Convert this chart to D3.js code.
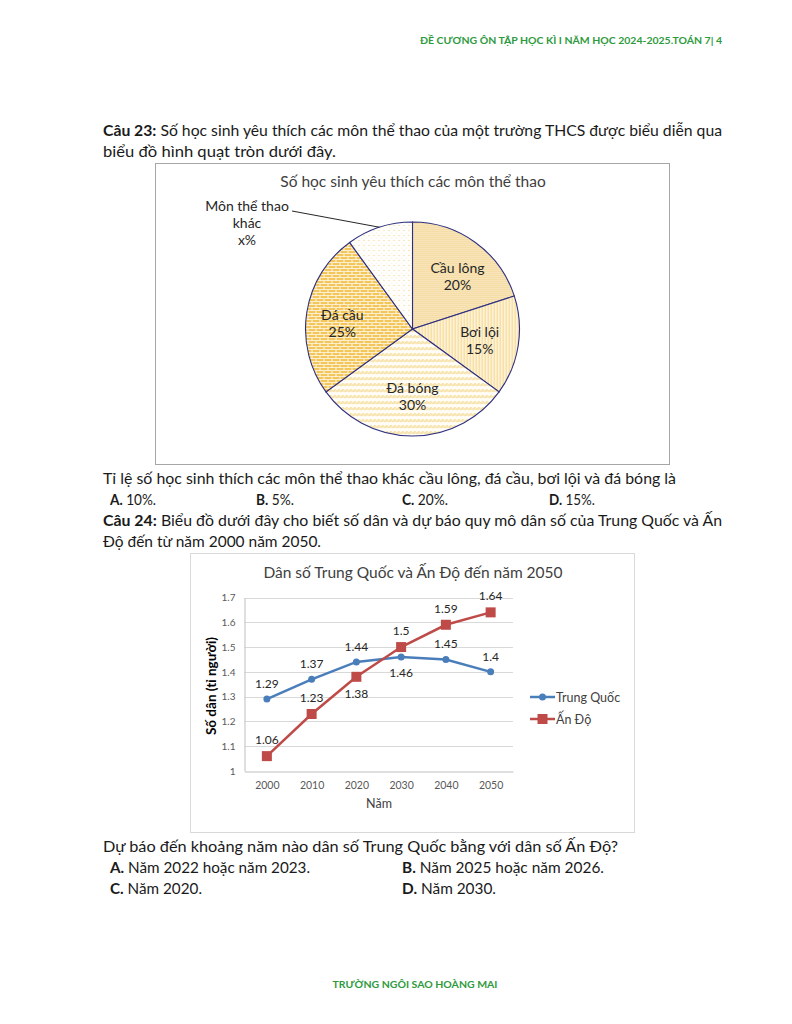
<!DOCTYPE html>
<html><head><meta charset="utf-8">
<script src="https://cdn.jsdelivr.net/npm/d3@7"></script>
<style>
html,body{margin:0;padding:0;background:#fff;}
svg{display:block;font-family:Lato,"Open Sans",sans-serif;}
</style></head>
<body>
<svg id="page" width="792" height="1024"></svg>
<script>
// ---------- DATA ----------
const pieCategories = ["Cầu lông", "Bơi lội", "Đá bóng", "Đá cầu", "Môn thể thao khác"];
const pieValues = [20, 15, 30, 25, 10];
const pieLabels = ["20%", "15%", "30%", "25%", "x%"];
const pieTitle = "Số học sinh yêu thích các môn thể thao";

const years = [2000, 2010, 2020, 2030, 2040, 2050];
const chinaValues = [1.29, 1.37, 1.44, 1.46, 1.45, 1.4];
const indiaValues = [1.06, 1.23, 1.38, 1.5, 1.59, 1.64];
const chinaLabelPos = ["above", "above", "above", "below", "above", "above"];
const indiaLabelPos = ["above", "above", "below", "above", "above", "above"];
const yTicks = [1, 1.1, 1.2, 1.3, 1.4, 1.5, 1.6, 1.7];
const seriesNames = ["Trung Quốc", "Ấn Độ"];
const lineTitle = "Dân số Trung Quốc và Ấn Độ đến năm 2050";
const yAxisTitle = "Số dân (tỉ người)";
const xAxisTitle = "Năm";

const svg = d3.select("#page");
const defs = svg.append("defs");

// ---------- PAGE TEXT ----------
const green = "#2e9a3e";
svg.append("text").attr("x", 722).attr("y", 44).attr("text-anchor", "end")
  .attr("font-size", 9.5).attr("font-weight", "bold").attr("fill", green)
  .attr("textLength", 302).attr("lengthAdjust", "spacingAndGlyphs")
  .text("ĐỀ CƯƠNG ÔN TẬP HỌC KÌ I NĂM HỌC 2024-2025.TOÁN 7| 4");
svg.append("text").attr("x", 415).attr("y", 988).attr("text-anchor", "middle")
  .attr("font-size", 9.5).attr("font-weight", "bold").attr("fill", green)
  .attr("textLength", 165).attr("lengthAdjust", "spacingAndGlyphs")
  .text("TRƯỜNG NGÔI SAO HOÀNG MAI");

function line(x, y, parts, width) {
  const t = svg.append("text").attr("x", x).attr("y", y).attr("font-size", 15).attr("fill", "#1a1a1a");
  parts.forEach(p => t.append("tspan").attr("font-weight", p[1] ? "bold" : "normal").text(p[0]));
  if (width) t.attr("textLength", width).attr("lengthAdjust", "spacingAndGlyphs");
  return t;
}
line(103, 136, [["Câu 23:", true], [" Số học sinh yêu thích các môn thể thao của một trường THCS được biểu diễn qua", false]], 619);
line(103, 157, [["biểu đồ hình quạt tròn dưới đây.", false]], 233);
line(103, 484, [["Tỉ lệ số học sinh thích các môn thể thao khác cầu lông, đá cầu, bơi lội và đá bóng là", false]], 573);
line(110, 505, [["A.", true], [" 10%.", false]], 46);
line(256, 505, [["B.", true], [" 5%.", false]], 38);
line(402, 505, [["C.", true], [" 20%.", false]], 46);
line(549, 505, [["D.", true], [" 15%.", false]], 46);
line(103, 526, [["Câu 24:", true], [" Biểu đồ dưới đây cho biết số dân và dự báo quy mô dân số của Trung Quốc và Ấn", false]], 619);
line(103, 547, [["Độ đến từ năm 2000 năm 2050.", false]], 218);
line(103, 852, [["Dự báo đến khoảng năm nào dân số Trung Quốc bằng với dân số Ấn Độ?", false]], 515);
line(110, 873, [["A.", true], [" Năm 2022 hoặc năm 2023.", false]], 200);
line(402, 873, [["B.", true], [" Năm 2025 hoặc năm 2026.", false]], 202);
line(110, 894, [["C.", true], [" Năm 2020.", false]], 92);
line(402, 894, [["D.", true], [" Năm 2030.", false]], 94);

// ---------- PATTERNS ----------
function pat(id, w, h, bg, draw) {
  const p = defs.append("pattern").attr("id", id).attr("patternUnits", "userSpaceOnUse")
    .attr("width", w).attr("height", h);
  p.append("rect").attr("width", w).attr("height", h).attr("fill", bg);
  draw(p);
}
// Cầu lông: fine light tan texture
pat("p0", 2, 2, "#f8e4b8", p => {
  p.append("rect").attr("x", 0).attr("y", 0).attr("width", 1).attr("height", 1).attr("fill", "#f1d596");
});
// Bơi lội: vertical stripes
pat("p1", 3, 3, "#fffaf0", p => {
  p.append("rect").attr("x", 0).attr("y", 0).attr("width", 1.5).attr("height", 3).attr("fill", "#f6d88e");
});
// Đá bóng: bands of small diagonal strokes
pat("p2", 4, 6, "#fffdf6", p => {
  p.append("line").attr("x1", 0).attr("y1", 3).attr("x2", 3).attr("y2", 0).attr("stroke", "#f3d68b").attr("stroke-width", 1.2);
  p.append("line").attr("x1", 0).attr("y1", 2).attr("x2", 4).attr("y2", 2).attr("stroke", "#f8e4b0").attr("stroke-width", 1.5);
});
// Đá cầu: brick
pat("p3", 8, 6, "#fff8e8", p => {
  p.append("rect").attr("x", 0).attr("y", 0).attr("width", 7).attr("height", 2.2).attr("fill", "#f2c65a");
  p.append("rect").attr("x", 4).attr("y", 3).attr("width", 7).attr("height", 2.2).attr("fill", "#f2c65a");
  p.append("rect").attr("x", -4).attr("y", 3).attr("width", 7).attr("height", 2.2).attr("fill", "#f2c65a");
});
// Khác: sparse dots
pat("p4", 5, 5, "#ffffff", p => {
  p.append("circle").attr("cx", 1.5).attr("cy", 1.5).attr("r", 0.8).attr("fill", "#f3dca0");
  p.append("circle").attr("cx", 4).attr("cy", 4).attr("r", 0.6).attr("fill", "#f6e5b8");
});

// ---------- PIE CHART ----------
svg.append("rect").attr("x", 155.5).attr("y", 163.5).attr("width", 514).attr("height", 301)
  .attr("fill", "#fff").attr("stroke", "#a6a6a6").attr("stroke-width", 1);
svg.append("text").attr("x", 413).attr("y", 187).attr("text-anchor", "middle")
  .attr("font-size", 15.5).attr("fill", "#404040").text(pieTitle);

const cx = 412.5, cy = 329, R = 107;
const pie = d3.pie().sort(null).value(d => d)(pieValues);
const arc = d3.arc().innerRadius(0).outerRadius(R);
const labelArc = d3.arc().innerRadius(68).outerRadius(68);
const pg = svg.append("g").attr("transform", `translate(${cx},${cy})`);
pg.selectAll("path.slice").data(pie).join("path").attr("class", "slice")
  .attr("d", arc).attr("fill", (d, i) => `url(#p${i})`)
  .attr("stroke", "#2f3180").attr("stroke-width", 1.1);

const labelNudge = [[5, 3], [0, 1], [0, 0], [-3, 6]];
pie.forEach((d, i) => {
  if (i === 4) return;
  const [x, y] = labelArc.centroid(d);
  const adj = labelNudge[i];
  const t = pg.append("text").attr("text-anchor", "middle").attr("font-size", 14).attr("fill", "#262626");
  t.append("tspan").attr("x", x + adj[0]).attr("y", y + adj[1] - 4).text(pieCategories[i]);
  t.append("tspan").attr("x", x + adj[0]).attr("y", y + adj[1] + 13).text(pieLabels[i]);
});
// outside label for "Môn thể thao khác"
{
  const d = pie[4];
  const mid = (d.startAngle + d.endAngle) / 2;
  const ex = Math.sin(mid) * R, ey = -Math.cos(mid) * R;
  pg.append("line").attr("x1", ex).attr("y1", ey).attr("x2", 292 - cx).attr("y2", 211 - cy)
    .attr("stroke", "#262626").attr("stroke-width", 1);
  const words = ["Môn thể thao", "khác", pieLabels[4]];
  const t = svg.append("text").attr("text-anchor", "middle").attr("font-size", 14).attr("fill", "#262626");
  words.forEach((w, k) => t.append("tspan").attr("x", 247).attr("y", 211 + k * 17).text(w));
}

// ---------- LINE CHART ----------
svg.append("rect").attr("x", 190.5).attr("y", 553.5).attr("width", 444).attr("height", 279)
  .attr("fill", "#fff").attr("stroke", "#d9d9d9").attr("stroke-width", 1);
svg.append("text").attr("x", 413).attr("y", 578).attr("text-anchor", "middle")
  .attr("font-size", 15.5).attr("fill", "#404040").text(lineTitle);

const x = d3.scalePoint().domain(years).range([244.5, 513]).padding(0.5);
const y = d3.scaleLinear().domain([1, 1.7]).range([771, 597.5]);

const grid = svg.append("g");
grid.selectAll("line").data(yTicks.slice(1)).join("line")
  .attr("x1", 244.5).attr("x2", 513).attr("y1", d => Math.round(y(d)) + 0.5).attr("y2", d => Math.round(y(d)) + 0.5)
  .attr("stroke", "#d9d9d9").attr("stroke-width", 1);

const yAxis = svg.append("g").attr("transform", "translate(244.5,0)")
  .call(d3.axisLeft(y).tickValues(yTicks).tickSize(0).tickPadding(9).tickFormat(d3.format("")));
yAxis.select(".domain").attr("stroke", "#bfbfbf");
yAxis.selectAll("text").attr("font-size", 10).attr("fill", "#595959").attr("font-family", "Lato, sans-serif");

const xAxis = svg.append("g").attr("transform", "translate(0,771.5)")
  .call(d3.axisBottom(x).tickSize(0).tickPadding(10).tickFormat(d3.format("d")));
xAxis.select(".domain").attr("stroke", "#bfbfbf");
xAxis.selectAll("text").attr("font-size", 10.5).attr("fill", "#595959").attr("font-family", "Lato, sans-serif");

svg.append("text").attr("transform", "translate(216,686) rotate(-90)").attr("text-anchor", "middle")
  .attr("font-size", 13.5).attr("font-weight", "bold").attr("fill", "#000").text(yAxisTitle);
svg.append("text").attr("x", 379).attr("y", 808).attr("text-anchor", "middle")
  .attr("font-size", 12.5).attr("fill", "#404040").text(xAxisTitle);

const lineGen = d3.line().x((d, i) => x(years[i])).y(d => y(d));
const colors = ["#4a7ebb", "#be4b48"];

svg.append("path").datum(chinaValues).attr("d", lineGen).attr("fill", "none")
  .attr("stroke", colors[0]).attr("stroke-width", 2.5);
svg.append("path").datum(indiaValues).attr("d", lineGen).attr("fill", "none")
  .attr("stroke", colors[1]).attr("stroke-width", 2.5);

svg.selectAll("circle.cn").data(chinaValues).join("circle").attr("class", "cn")
  .attr("cx", (d, i) => x(years[i])).attr("cy", d => y(d)).attr("r", 3.5).attr("fill", colors[0]);
svg.selectAll("rect.in").data(indiaValues).join("rect").attr("class", "in")
  .attr("x", (d, i) => x(years[i]) - 5).attr("y", d => y(d) - 5).attr("width", 10).attr("height", 10)
  .attr("fill", colors[1]);

function dataLabels(vals, pos, above, below) {
  svg.append("g").selectAll("text").data(vals).join("text")
    .attr("x", (d, i) => x(years[i])).attr("y", (d, i) => y(d) + (pos[i] === "above" ? above : below))
    .attr("text-anchor", "middle").attr("font-size", 12).attr("fill", "#262626")
    .text(d => d);
}
dataLabels(chinaValues, chinaLabelPos, -11, 20);
dataLabels(indiaValues, indiaLabelPos, -12, 21);

// legend
const lg = svg.append("g");
seriesNames.forEach((n, k) => {
  const ly = 697 + k * 22;
  lg.append("line").attr("x1", 530).attr("x2", 555).attr("y1", ly).attr("y2", ly)
    .attr("stroke", colors[k]).attr("stroke-width", 2.5);
  if (k === 0) lg.append("circle").attr("cx", 542.5).attr("cy", ly).attr("r", 3.5).attr("fill", colors[k]);
  else lg.append("rect").attr("x", 537.5).attr("y", ly - 5).attr("width", 10).attr("height", 10).attr("fill", colors[k]);
  lg.append("text").attr("x", 556).attr("y", ly + 4.5).attr("font-size", 12.5).attr("fill", "#404040").text(n);
});
</script>
</body></html>
